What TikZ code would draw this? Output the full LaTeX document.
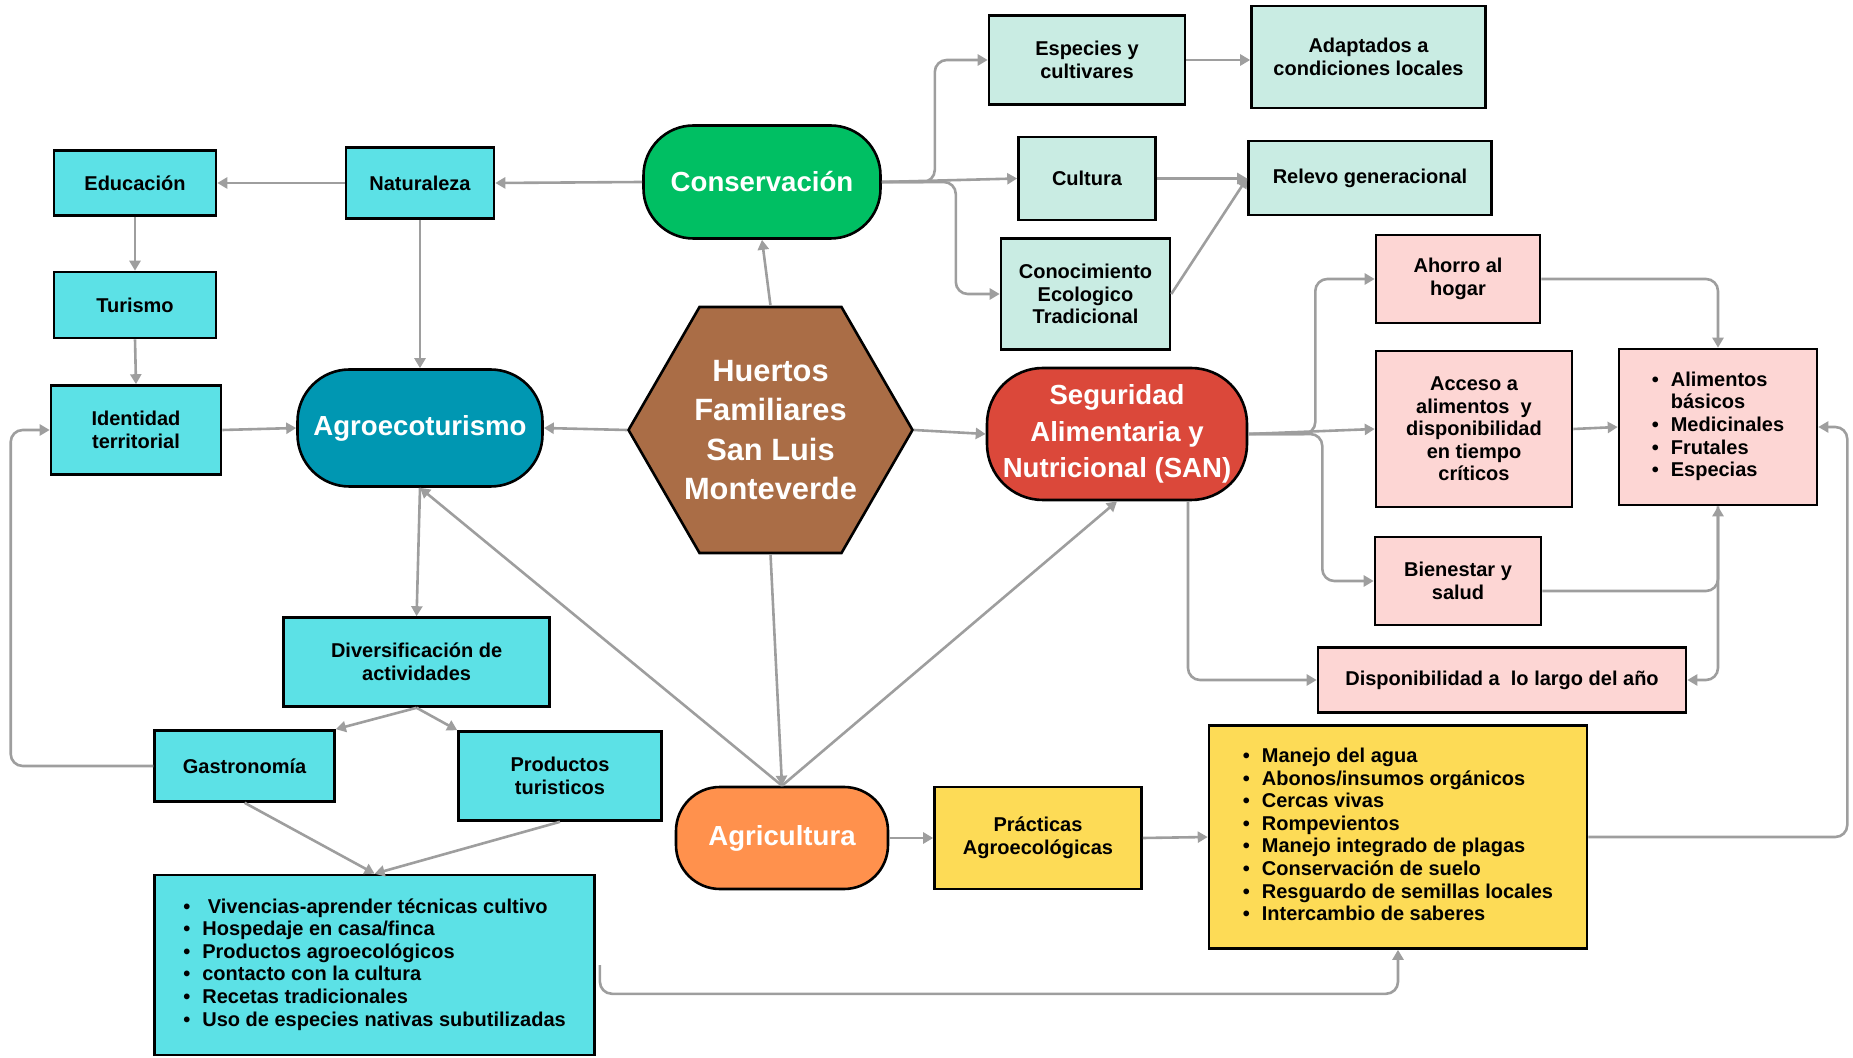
\documentclass[tikz,border=0pt]{standalone}
\usepackage{fontspec}
\setmainfont{Liberation Sans}
\usepackage{tikz}
\usetikzlibrary{
  arrows.meta,
  shapes.geometric,
  calc
}
\definecolor{cyanfill}{RGB}{92,225,230}
\definecolor{mintfill}{RGB}{201,236,227}
\definecolor{pinkfill}{RGB}{253,214,212}
\definecolor{yellowfill}{RGB}{253,219,86}
\definecolor{agroteal}{RGB}{0,151,178}
\definecolor{congreen}{RGB}{0,191,99}
\definecolor{sanred}{RGB}{219,72,58}
\definecolor{huebrown}{RGB}{170,109,70}
\definecolor{agcorange}{RGB}{255,145,77}
\definecolor{linkgray}{RGB}{158,158,158}

\begin{document}
\begin{tikzpicture}[x=0.5pt, y=-0.5pt,
    every node/.style={font=\bfseries\fontsize{10}{11.3}\selectfont, align=center},
    plainbox/.style={draw=black, line width=1.3pt, rectangle, inner sep=2pt},
    cyanbox/.style={plainbox, fill=cyanfill},
    mintbox/.style={plainbox, fill=mintfill},
    pinkbox/.style={plainbox, fill=pinkfill},
    yellowbox/.style={plainbox, fill=yellowfill},
    hub/.style={draw=black, line width=1.3pt, text=white, inner sep=2pt,
      font=\bfseries\fontsize{13.8}{18.3}\selectfont},
    link/.style={draw=linkgray, line width=1.3pt, rounded corners=6pt,
      -{Triangle[length=5pt,width=5.5pt]}}]
            \useasboundingbox (0,0) rectangle (1853,1058);

            % Hexagon
            \node[regular polygon, regular polygon sides=6, minimum size=142pt, inner sep=0pt,
              draw=black, line width=1.3pt, fill=huebrown] (hue) at (770.5,430) {};
            \node[text=white, font=\bfseries\fontsize{15.4}{19.7}\selectfont] (huetxt) at (hue) {Huertos\\Familiares\\San Luis\\Monteverde};

            % Main hubs
            \node[hub, fill=congreen, rounded corners=25pt, minimum width=118.5pt, minimum height=56.5pt] (con) at (762,182) {Conservación};
            \node[hub, fill=agroteal, rounded corners=26pt, minimum width=122.5pt, minimum height=58.5pt] (agr) at (420,428) {Agroecoturismo};
            \node[hub, fill=sanred, rounded corners=28pt, minimum width=130pt, minimum height=66pt] (san) at (1117,434) {Seguridad\\Alimentaria y\\Nutricional (SAN)};
            \node[hub, fill=agcorange, rounded corners=22pt, minimum width=106pt, minimum height=51pt] (agc) at (782,838) {Agricultura};

            % Tourism side
            \node[cyanbox, minimum width=81pt, minimum height=32.5pt] (edu) at (135,183) {Educación};
            \node[cyanbox, minimum width=74pt, minimum height=35.5pt] (nat) at (420,183) {Naturaleza};
            \node[cyanbox, minimum width=81pt, minimum height=33pt] (tur) at (135,305) {Turismo};
            \node[cyanbox, minimum width=85pt, minimum height=44.5pt] (ide) at (136,430) {Identidad\\territorial};
            \node[cyanbox, minimum width=133pt, minimum height=44.5pt] (div) at (416.6,662) {Diversificación de\\actividades};
            \node[cyanbox, minimum width=90pt, minimum height=35.5pt] (gas) at (244.6,766) {Gastronomía};
            \node[cyanbox, minimum width=101.5pt, minimum height=44.5pt] (pro) at (560,776) {Productos\\turisticos};
            \node[cyanbox, minimum width=220pt, minimum height=90pt] (viv) at (374.6,965) {%
              \begin{tabular}{@{}l@{\hspace{6pt}}l@{}}
              \textbullet & \ Vivencias-aprender técnicas cultivo\\
              \textbullet & Hospedaje en casa/finca\\
              \textbullet & Productos agroecológicos\\
              \textbullet & contacto con la cultura\\
              \textbullet & Recetas tradicionales\\
              \textbullet & Uso de especies nativas subutilizadas
              \end{tabular}};

            % Conservation side
            \node[mintbox, minimum width=98pt, minimum height=44.5pt] (esp) at (1087,60) {Especies y\\cultivares};
            \node[mintbox, minimum width=117pt, minimum height=51pt] (ada) at (1368.5,57) {Adaptados a\\condiciones locales};
            \node[mintbox, minimum width=68.5pt, minimum height=41.5pt] (cul) at (1087,178.5) {Cultura};
            \node[mintbox, minimum width=121.5pt, minimum height=37pt] (rel) at (1370,178) {Relevo generacional};
            \node[mintbox, minimum width=84.5pt, minimum height=55.5pt] (cet) at (1085.5,294) {Conocimiento\\Ecologico\\Tradicional};

            % SAN side
            \node[pinkbox, minimum width=82pt, minimum height=44pt] (aho) at (1458,279) {Ahorro al\\hogar};
            \node[pinkbox, minimum width=98pt, minimum height=78pt] (acc) at (1474,429) {Acceso a\\alimentos\ \ y\\disponibilidad\\en tiempo\\críticos};
            \node[pinkbox, minimum width=99pt, minimum height=78pt] (ali) at (1718,427) {%
              \begin{tabular}{@{}l@{\hspace{6pt}}l@{}}
              \textbullet & Alimentos\\
               & básicos\\
              \textbullet & Medicinales\\
              \textbullet & Frutales\\
              \textbullet & Especias
              \end{tabular}};
            \node[pinkbox, minimum width=83pt, minimum height=44pt] (bie) at (1458,581) {Bienestar y\\salud};
            \node[pinkbox, minimum width=184pt, minimum height=32.5pt] (dis) at (1502,680) {Disponibilidad a\ \ lo largo del año};

            % Agriculture side
            \node[yellowbox, minimum width=103.5pt, minimum height=51pt] (pra) at (1038,838) {Prácticas\\Agroecológicas};
            \node[yellowbox, minimum width=189pt, minimum height=111.5pt] (man) at (1398,837) {%
              \begin{tabular}{@{}l@{\hspace{6pt}}l@{}}
              \textbullet & Manejo del agua\\
              \textbullet & Abonos/insumos orgánicos\\
              \textbullet & Cercas vivas\\
              \textbullet & Rompevientos\\
              \textbullet & Manejo integrado de plagas\\
              \textbullet & Conservación de suelo\\
              \textbullet & Resguardo de semillas locales\\
              \textbullet & Intercambio de saberes
              \end{tabular}};

            % Arrows from the hexagon
            \draw[link] (hue.north) -- (con.south);
            \draw[link] (hue.west) -- (agr.east);
            \draw[link] (hue.east) -- (san.west);
            \draw[link] (hue.south) -- (agc.north);
            \draw[link] (agc.north) -- (agr.south);
            \draw[link] (agc.north) -- (san.south);

            % Arrows, tourism side
            \draw[link] (con.west) -- (nat.east);
            \draw[link] (nat.west) -- (edu.east);
            \draw[link] (edu.south) -- (tur.north);
            \draw[link] (tur.south) -- (ide.north);
            \draw[link] (nat.south) -- (agr.north);
            \draw[link] (ide.east) -- (agr.west);
            \draw[link] (agr.south) -- (div.north);
            \draw[link] (div.south) -- (gas.north east);
            \draw[link] (div.south) -- (pro.north west);
            \draw[link] (gas.south) -- (viv.north);
            \draw[link] (pro.south) -- (viv.north);
            \draw[link] (gas.west) -| ($(ide.west)+(-39,0)$) -- (ide.west);
            \draw[link] ($(viv.east)+(4,0)$) |- ($(man.south)+(0,44)$) -- (man.south);

            % Arrows, conservation side
            \draw[link] (con.east) -- ++(53,0) |- (esp.west);
            \draw[link] (con.east) -- (cul.west);
            \draw[link] (con.east) -- ++(74,0) |- (cet.west);
            \draw[link] (esp.east) -- (esp.east -| ada.west);
            \draw[link] (cul.east) -- (cul.east -| rel.west);
            \draw[link] (cet.east) -- (rel.west);

            % Arrows, SAN side
            \draw[link] (san.east) -- ++(67,0) |- (aho.west);
            \draw[link] (san.east) -- (acc.west);
            \draw[link] (san.east) -- ++(74,0) |- (bie.west);
            \draw[link] ($(san.south)+(71,0)$) |- (dis.west);
            \draw[link] (aho.east) -| (ali.north);
            \draw[link] (acc.east) -- (ali.west);
            \draw[link] ($(bie.east)+(0,10)$) -| (ali.south);
            \draw[link] (ali.south) |- (dis.east);

            % Arrows, agriculture side
            \draw[link] (agc.east) -- (pra.west);
            \draw[link] (pra.east) -- (man.west);
            \draw[link] (man.east) -- ++(259,0) |- (ali.east);
        \end{tikzpicture}
\end{document}
